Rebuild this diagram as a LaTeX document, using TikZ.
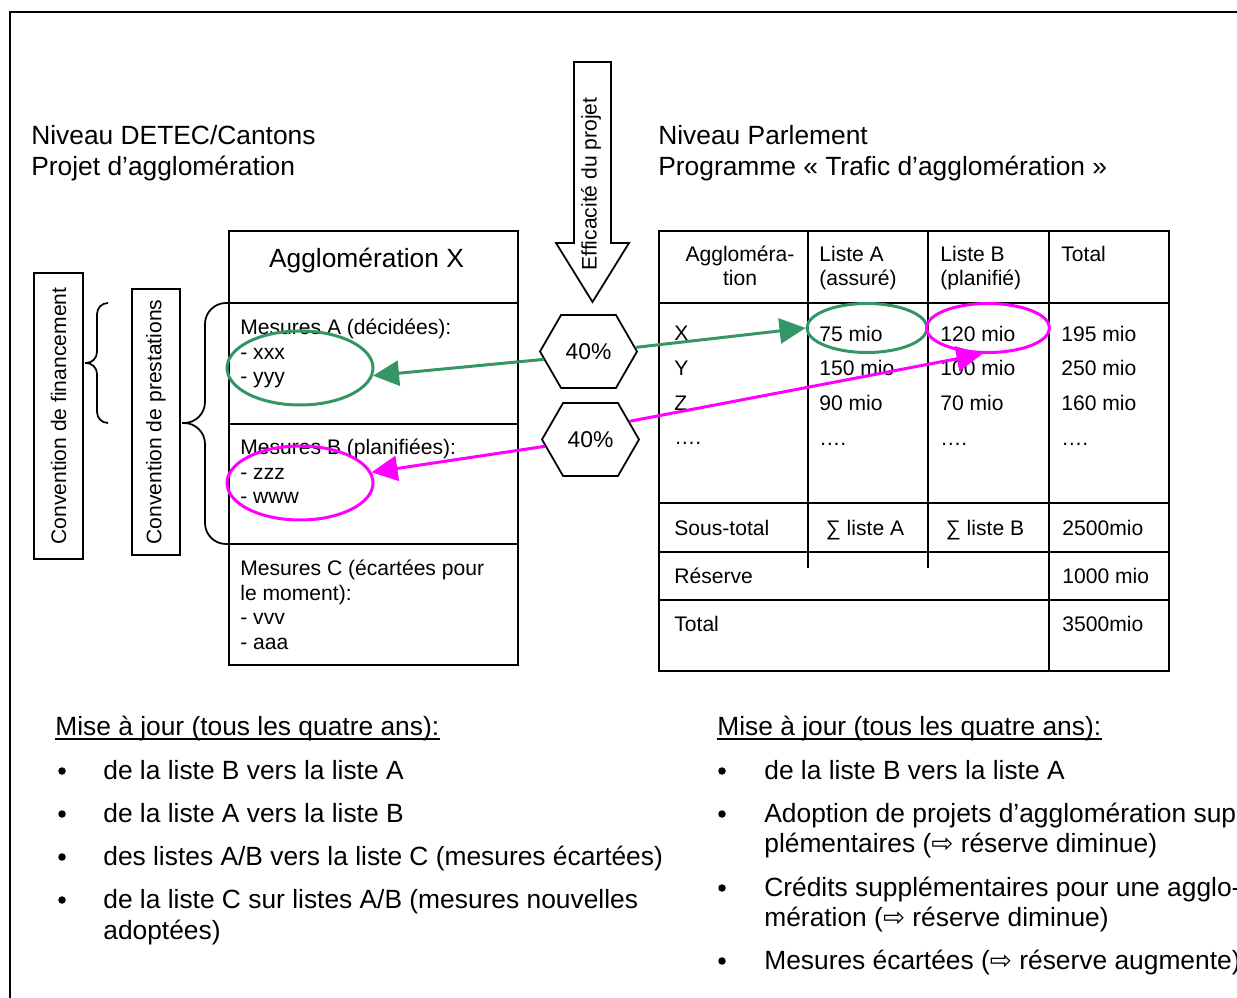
\documentclass[tikz,border=0pt]{standalone}
\usepackage{fontspec}
\setmainfont{Liberation Sans}
\newfontfamily\symfont{DejaVu Sans}
\usetikzlibrary{arrows.meta, shapes.geometric, shapes.symbols}
\definecolor{agreen}{RGB}{52,150,100}
\definecolor{amagenta}{RGB}{255,0,255}
\tikzset{
  txtbig/.style={inner sep=0pt, align=left, font=\fontsize{15}{17.6}\selectfont},
  txtsmall/.style={inner sep=0pt, align=left, font=\fontsize{12}{13.9}\selectfont},
  txthead/.style={inner sep=0pt, font=\fontsize{12}{13.6}\selectfont},
  txtrow/.style={inner sep=0pt, align=left, font=\fontsize{12}{19.84}\selectfont},
  conv/.style={draw, line width=1pt, rotate=90, inner sep=0pt, font=\fontsize{12}{14}\selectfont},
  hexa/.style={draw, line width=1pt, signal, signal to=east and west, signal pointer angle=120,
    minimum width=1.94cm, minimum height=1.46cm, inner sep=0pt, font=\fontsize{13}{15}\selectfont},
  ell/.style={draw, ellipse, line width=1.7pt, inner sep=0pt},
  bul/.style={circle, fill, inner sep=0pt, minimum size=0.15cm},
  aline/.style={line width=1.7pt, -{Triangle[length=0.52cm, width=0.50cm]}}
}
\begin{document}
\begin{tikzpicture}
    \useasboundingbox (0,0) rectangle (24.74,19.94);
    \clip (0,0) rectangle (24.74,19.94);
    % frame
    \draw[line width=0.8pt] (0.2,-1) rectangle (26,19.70);
    % levels
    \node[txtbig, anchor=north west] (hdetec) at (0.62,17.43) {Niveau DETEC/Cantons\\Projet d’agglomération};
    \node[txtbig, anchor=north west] (hparl) at (13.16,17.43) {Niveau Parlement\\Programme « Trafic d’agglomération »};
    % efficacite arrow
    \draw[line width=1pt] (11.48,18.70) -- (12.22,18.70) -- (12.22,15.08) -- (12.58,15.08)
        -- (11.85,13.90) -- (11.12,15.08) -- (11.48,15.08) -- cycle;
    \node[txtsmall, rotate=90] (effic) at (11.82,16.26) {Efficacité du projet};
    % agglomeration X
    \draw[line width=1pt] (4.58,6.64) rectangle (10.36,15.32);
    \draw[line width=1pt] (4.58,13.88) -- (10.36,13.88);
    \draw[line width=1pt] (4.58,11.46) -- (10.36,11.46);
    \draw[line width=1pt] (4.58,9.06) -- (10.36,9.06);
    \node[txtbig, anchor=base] (aggx) at (7.33,14.59) {Agglomération X};
    \node[txtsmall, anchor=north west] (mesA) at (4.80,13.56) {Mesures A (décidées):\\- xxx\\- yyy};
    \node[txtsmall, anchor=north west] (mesB) at (4.80,11.16) {Mesures B (planifiées):\\- zzz\\- www};
    \node[txtsmall, anchor=north west] (mesC) at (4.80,8.74) {Mesures C (écartées pour\\le moment):\\- vvv\\- aaa};
    % conventions
    \node[conv, minimum width=5.72cm, minimum height=0.98cm] (cfin) at (1.17,11.62) {Convention de financement};
    \node[conv, minimum width=5.32cm, minimum height=0.96cm] (cprest) at (3.12,11.50) {Convention de prestations};
    \draw[line width=1pt, rounded corners=0.22cm] (2.16,13.88) -- (1.94,13.88) -- (1.94,12.68) -- (1.70,12.68)
        (1.70,12.68) -- (1.94,12.68) -- (1.94,11.48) -- (2.16,11.48);
    \draw[line width=1pt, rounded corners=0.42cm] (4.58,13.88) -- (4.10,13.88) -- (4.10,11.48) -- (3.64,11.48)
        (3.64,11.48) -- (4.10,11.48) -- (4.10,9.06) -- (4.58,9.06);
    % table
    \draw[line width=1pt] (13.18,6.52) rectangle (23.38,15.32);
    \draw[line width=1pt] (13.18,13.88) -- (23.38,13.88);
    \draw[line width=1pt] (13.18,9.88) -- (23.38,9.88);
    \draw[line width=1pt] (13.18,8.90) -- (23.38,8.90);
    \draw[line width=1pt] (13.18,7.94) -- (23.38,7.94);
    \draw[line width=1pt] (16.16,15.32) -- (16.16,8.58);
    \draw[line width=1pt] (18.56,15.32) -- (18.56,8.58);
    \draw[line width=1pt] (20.98,15.32) -- (20.98,6.52);
    \node[txthead, align=center, anchor=north] (thagg) at (14.80,15.02) {Aggloméra-\\tion};
    \node[txthead, align=left, anchor=north west] (thlA) at (16.38,15.02) {Liste A\\(assuré)};
    \node[txthead, align=left, anchor=north west] (thlB) at (18.80,15.02) {Liste B\\(planifié)};
    \node[txthead, align=left, anchor=north west] (thtot) at (21.22,15.02) {Total};
    \node[txtrow, anchor=north west] (rowagg) at (13.48,13.43) {X\\Y\\Z\\….};
    \node[txtrow, anchor=north west] (rowlA) at (16.38,13.43) {75 mio\\150 mio\\90 mio\\….};
    \node[txtrow, anchor=north west] (rowlB) at (18.80,13.43) {120 mio\\100 mio\\70 mio\\….};
    \node[txtrow, anchor=north west] (rowtot) at (21.22,13.43) {195 mio\\250 mio\\160 mio\\….};
    \node[txthead, anchor=base west] (stot) at (13.48,9.23) {Sous-total};
    \node[txthead, anchor=base] (sumA) at (17.30,9.23) {∑ liste A};
    \node[txthead, anchor=base] (sumB) at (19.70,9.23) {∑ liste B};
    \node[txthead, anchor=base west] (stotv) at (21.24,9.23) {2500mio};
    \node[txthead, anchor=base west] (resv) at (13.48,8.27) {Réserve};
    \node[txthead, anchor=base west] (resvv) at (21.24,8.27) {1000 mio};
    \node[txthead, anchor=base west] (total) at (13.48,7.31) {Total};
    \node[txthead, anchor=base west] (totalv) at (21.24,7.31) {3500mio};
    % ellipses and hexagons
    \node[ell, agreen, minimum width=2.92cm, minimum height=1.48cm] (ellA) at (6.00,12.58) {};
    \node[ell, amagenta, minimum width=2.92cm, minimum height=1.48cm] (ellB) at (6.00,10.28) {};
    \node[ell, agreen, minimum width=2.40cm, minimum height=0.98cm] (ellX) at (17.34,13.38) {};
    \node[ell, amagenta, minimum width=2.46cm, minimum height=0.98cm] (ellY) at (19.76,13.38) {};
    \node[hexa] (hexA) at (11.77,12.91) {40\%};
    \node[hexa] (hexB) at (11.81,11.15) {40\%};
    \draw[aline, agreen] (hexA.190) -- (ellA.354);
    \draw[aline, agreen] (hexA.5) -- (ellX.west);
    \draw[aline, amagenta] (hexB) -- (ellB);
    \draw[aline, amagenta] (hexB.25) -- (ellY.258);
    % updates, left
    \node[txtbig, anchor=base west] (updL) at (1.10,5.23) {Mise à jour (tous les quatre ans):};
    \draw[line width=0.8pt] ([yshift=-0.07cm]updL.base west) -- ([yshift=-0.07cm]updL.base east);
    \node[bul] (bl1) at (1.24,4.52) {};
    \node[txtbig, anchor=base west] (il1) at (2.06,4.35) {de la liste B vers la liste A};
    \node[bul] (bl2) at (1.24,3.66) {};
    \node[txtbig, anchor=base west] (il2) at (2.06,3.49) {de la liste A vers la liste B};
    \node[bul] (bl3) at (1.24,2.80) {};
    \node[txtbig, anchor=base west] (il3) at (2.06,2.63) {des listes A/B vers la liste C (mesures écartées)};
    \node[bul] (bl4) at (1.24,1.94) {};
    \node[txtbig, anchor=north west] (il4) at (2.06,2.16) {de la liste C sur listes A/B (mesures nouvelles\\adoptées)};
    % updates, right
    \node[txtbig, anchor=base west] (updR) at (14.34,5.23) {Mise à jour (tous les quatre ans):};
    \draw[line width=0.8pt] ([yshift=-0.07cm]updR.base west) -- ([yshift=-0.07cm]updR.base east);
    \node[bul] (br1) at (14.44,4.52) {};
    \node[txtbig, anchor=base west] (ir1) at (15.28,4.35) {de la liste B vers la liste A};
    \node[bul] (br2) at (14.44,3.66) {};
    \node[txtbig, anchor=north west, font=\fontsize{15}{17}\selectfont] (ir2) at (15.28,3.88)
        {Adoption de projets d’agglomération sup-\\plémentaires ({\symfont ⇨} réserve diminue)};
    \node[bul] (br3) at (14.44,2.18) {};
    \node[txtbig, anchor=north west, font=\fontsize{15}{17}\selectfont] (ir3) at (15.28,2.40)
        {Crédits supplémentaires pour une agglo-\\mération ({\symfont ⇨} réserve diminue)};
    \node[bul] (br4) at (14.44,0.72) {};
    \node[txtbig, anchor=base west] (ir4) at (15.28,0.55) {Mesures écartées ({\symfont ⇨} réserve augmente)};
\end{tikzpicture}
\end{document}
